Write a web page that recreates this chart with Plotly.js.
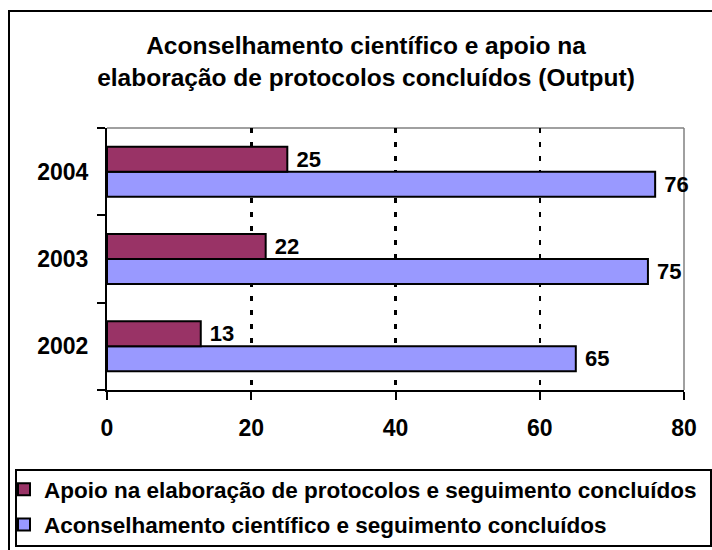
<!DOCTYPE html>
<html>
<head>
<meta charset="utf-8">
<script src="https://cdn.plot.ly/plotly-3.0.1.min.js"></script>
<style>html,body{margin:0;padding:0;background:#fff;}#chart{width:712px;height:550px;}</style>
</head>
<body>
<div id="chart"></div>
<script>
const years = ['2002', '2003', '2004'];
const apoio = [13, 22, 25];
const aconselhamento = [65, 75, 76];
const seriesNames = [
  'Apoio na elaboração de protocolos e seguimento concluídos',
  'Aconselhamento científico e seguimento concluídos'
];
const xTicks = [0, 20, 40, 60, 80];
const titleText = 'Aconselhamento científico e apoio na<br>elaboração de protocolos concluídos (Output)';

const FONT = 'Liberation Sans, Arial, sans-serif';
const labelFont = {family: FONT, size: 22, color: '#000', weight: 'bold'};
const tickFont = {family: FONT, size: 23, color: '#000', weight: 'bold'};

const traces = [
  {
    type: 'bar', orientation: 'h', name: seriesNames[1], legendgroup: 'b', legendrank: 2,
    y: years, x: aconselhamento,
    marker: {color: '#9999FF', line: {color: '#000', width: 2}},
    text: aconselhamento.map(String), texttemplate: '\u00a0%{x}', textposition: 'outside',
    textfont: labelFont, cliponaxis: false, constraintext: 'none', hoverinfo: 'skip'
  },
  {
    type: 'bar', orientation: 'h', name: seriesNames[0], legendgroup: 'a', legendrank: 1,
    y: years, x: apoio,
    marker: {color: '#993366', line: {color: '#000', width: 2}},
    text: apoio.map(String), texttemplate: '\u00a0%{x}', textposition: 'outside',
    textfont: labelFont, cliponaxis: false, constraintext: 'none', hoverinfo: 'skip'
  }
];

// plot area in pixels: x 107..684, y 128..390
const L = 107, R = 684, T = 128, B = 390;
const px = v => (v - L) / (R - L);
const py = v => (B - v) / (B - T);

const layout = {
  width: 712, height: 550,
  margin: {l: L, r: 712 - R, t: T, b: 550 - B, pad: 0, autoexpand: false},
  paper_bgcolor: '#fff', plot_bgcolor: '#fff',
  barmode: 'group', bargap: 0.427, bargroupgap: 0,
  font: {family: FONT, color: '#000'},
  title: {
    text: titleText,
    font: {family: FONT, size: 24.5, color: '#000', weight: 'bold'},
    x: 366 / 712, xanchor: 'center', xref: 'container',
    y: 1 - 54 / 550, yanchor: 'top', yref: 'container'
  },
  xaxis: {
    range: [0, 80], tickmode: 'array', tickvals: xTicks, ticktext: xTicks.map(String),
    ticks: 'outside', ticklen: 8, tickwidth: 2, tickcolor: '#000',
    showline: true, linewidth: 2, linecolor: '#000',
    showgrid: true, gridcolor: '#000', gridwidth: 2.5, griddash: '5px,9px',
    zeroline: false, tickfont: tickFont, ticklabelstandoff: 8, automargin: false
  },
  yaxis: {
    type: 'category', categoryorder: 'array', categoryarray: years,
    tickson: 'boundaries', ticks: 'outside', ticklen: 8, tickwidth: 2, tickcolor: '#000',
    showline: true, linewidth: 2, linecolor: '#000',
    showgrid: false, zeroline: false, tickfont: tickFont, ticklabelstandoff: 12, automargin: false
  },
  showlegend: true,
  legend: {
    traceorder: 'grouped', tracegroupgap: 3,
    x: px(4), xref: 'paper', xanchor: 'left',
    y: py(468), yref: 'paper', yanchor: 'top',
    bgcolor: 'rgba(0,0,0,0)', borderwidth: 0,
    font: {family: FONT, size: 22.5, color: '#000', weight: 'bold'}
  },
  shapes: [
    {type: 'rect', xref: 'paper', yref: 'paper', x0: px(9), x1: px(760), y0: py(600), y1: py(11),
     line: {color: '#000', width: 2}, fillcolor: 'rgba(0,0,0,0)', layer: 'below'},
    {type: 'rect', xref: 'paper', yref: 'paper', x0: px(16), x1: px(711), y0: py(546), y1: py(470),
     line: {color: '#000', width: 2}, fillcolor: 'rgba(0,0,0,0)', layer: 'above'},
    {type: 'line', xref: 'paper', yref: 'paper', x0: 0, x1: 1, y0: 1, y1: 1,
     line: {color: '#808080', width: 1.5}, layer: 'below'},
    {type: 'line', xref: 'paper', yref: 'paper', x0: 1, x1: 1, y0: 0, y1: 1,
     line: {color: '#808080', width: 1.5}, layer: 'below'}
  ]
};

Plotly.newPlot('chart', traces, layout, {displayModeBar: false, staticPlot: true});
</script>
</body>
</html>
